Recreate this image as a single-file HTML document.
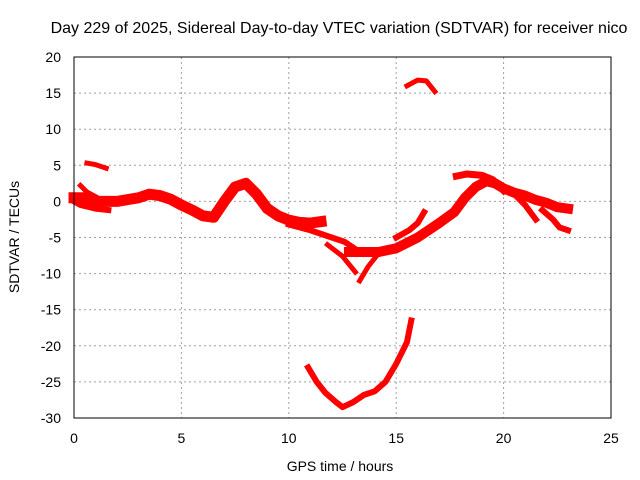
<!DOCTYPE html>
<html><head><meta charset="utf-8"><style>
body{margin:0;background:#fff;}
svg{display:block;font-family:"Liberation Sans",sans-serif;}
</style></head><body>
<svg id="chart" width="640" height="480">
<text x="339" y="33" font-size="16" text-anchor="middle">Day 229 of 2025, Sidereal Day-to-day VTEC variation (SDTVAR) for receiver nico</text>
<text x="340" y="471" font-size="14" text-anchor="middle">GPS time / hours</text>
<text transform="translate(19,237) rotate(-90)" font-size="14" text-anchor="middle">SDTVAR / TECUs</text>
<g id="grid"></g><g id="ticks"></g><g id="series"></g>
<rect x="74" y="57" width="537" height="361" fill="none" stroke="#000" stroke-width="1"/>
</svg>
<script>
const xTicks=[0,5,10,15,20,25];
const yTicks=[20,15,10,5,0,-5,-10,-15,-20,-25,-30];
const trackTop=[[15.5,16],[16,16.8],[16.4,16.7],[16.8,15.2]];
const trackShort=[[0.6,5.3],[1.0,5.1],[1.5,4.6]];
const trackMain=[[0,0.5],[0.5,0.5],[1,0],[2,0],[3,0.5],[3.5,1],[4,0.8],[4.5,0.3],[5,-0.5],[5.5,-1.2],[6,-2],[6.5,-2.2],[7,0],[7.5,2],[8,2.5],[8.5,1],[9,-1],[9.5,-2],[10,-2.6],[10.5,-2.9],[11,-3],[11.5,-2.8]];
const trackLow=[[0,0],[0.3,-0.5],[1,-1],[1.6,-1.2]];
const trackUp=[[0.3,2.2],[0.6,1.3],[1.1,0.5]];
const trackMid=[[10,-3.2],[11,-4],[12,-5],[12.6,-5.6],[13.1,-6.6]];
const trackDrop=[[11.8,-6],[12.5,-7.6],[13.1,-9.8]];
const trackDip=[[13.3,-11],[13.7,-9],[14.1,-7.5]];
const trackRise=[[12.8,-7],[13.5,-7],[14.2,-7],[15,-6.5],[16,-5],[17,-3],[17.7,-1.5],[18.2,0.5],[18.7,2],[19.2,2.8],[19.6,2.5],[20,1.8],[20.5,1.2],[21,0.8],[21.5,0.2],[22,-0.2],[22.5,-0.8],[23,-1]];
const trackBranch=[[15,-5],[15.6,-4],[16,-3],[16.3,-1.5]];
const trackArc=[[17.8,3.5],[18.3,3.8],[19,3.6],[19.5,3],[20,1.5]];
const trackTail1=[[20.5,1],[21,-0.5],[21.5,-2.5]];
const trackTail2=[[21.8,-1.2],[22.3,-2.5],[22.6,-3.6],[23,-4]];
const trackBottom=[[10.9,-23],[11.3,-25],[11.7,-26.5],[12.2,-27.8],[12.5,-28.5],[13,-27.8],[13.5,-26.8],[14,-26.3],[14.5,-25],[15,-22.5],[15.5,-19.5],[15.7,-16.5]];
const tracks=[[trackTop,5],[trackShort,5],[trackMain,11],[trackLow,6],[trackUp,5],[trackMid,6],[trackDrop,5],[trackDip,5],[trackRise,10],[trackBranch,6],[trackArc,7],[trackTail1,6],[trackTail2,6],[trackBottom,6]];
const X=h=>74+h*537/25, Y=v=>57+(20-v)*361/50;
const NS="http://www.w3.org/2000/svg";
const g=document.getElementById('grid'),t=document.getElementById('ticks'),s=document.getElementById('series');
function mk(tag,attrs,parent){const e=document.createElementNS(NS,tag);for(const k in attrs)e.setAttribute(k,attrs[k]);parent.appendChild(e);return e;}
xTicks.forEach(v=>{
 if(v>0&&v<25){const l=mk('line',{x1:X(v),x2:X(v),y1:57,y2:418,stroke:'#a0a0a0','stroke-dasharray':'2,3'},g);
 
 }
 const tx=mk('text',{x:X(v),y:443,'font-size':14,'text-anchor':'middle'},t);tx.textContent=v;
 
 
});
yTicks.forEach(v=>{
 if(v<20&&v>-30){const l=mk('line',{x1:74,x2:611,y1:Y(v),y2:Y(v),stroke:'#a0a0a0','stroke-dasharray':'2,3'},g);
 
 }
 const tx=mk('text',{x:61,y:Y(v)+5,'font-size':14,'text-anchor':'end'},t);tx.textContent=v;
 
 
});
tracks.forEach(([pts,w])=>{
 const p=mk('polyline',{points:pts.map(q=>X(q[0])+','+Y(q[1])).join(' '),fill:'none',stroke:'#ff0000','stroke-width':w,'stroke-linejoin':'round','stroke-linecap':'square'},s);
 
 
});
</script>
</body></html>
